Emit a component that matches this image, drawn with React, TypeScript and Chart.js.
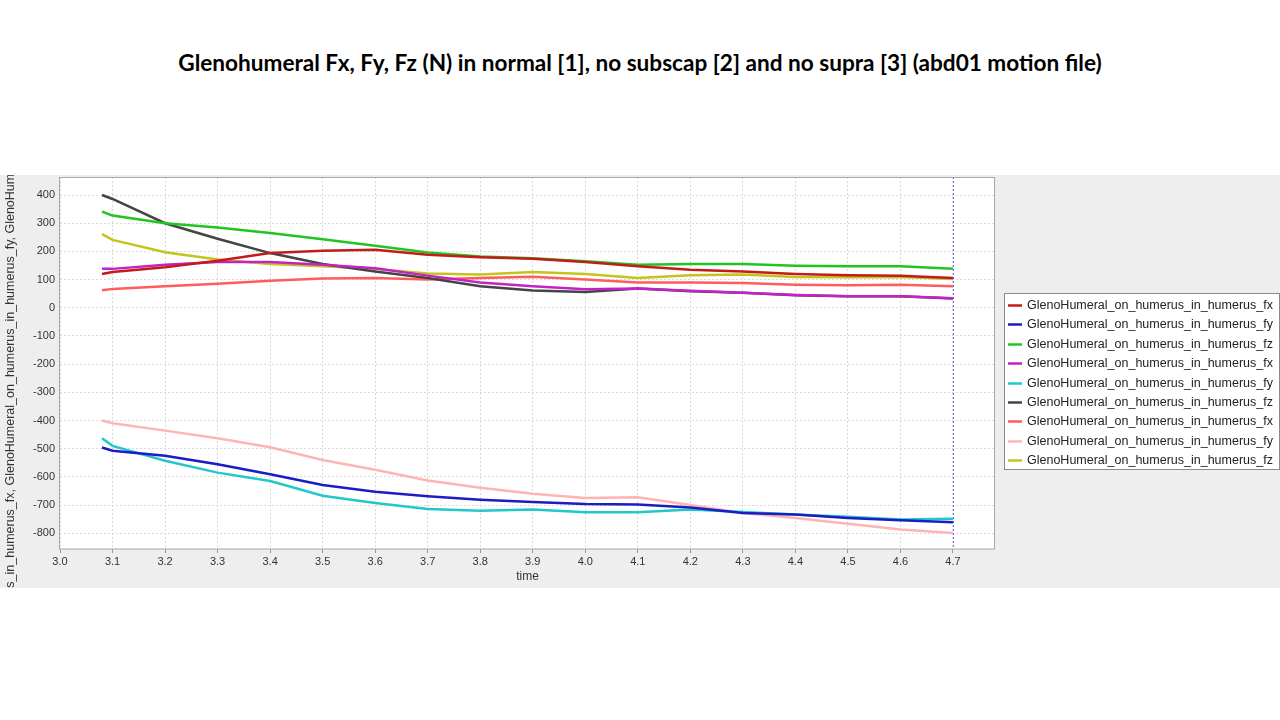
import React, { useEffect, useRef } from "react";
import { Chart, registerables } from "chart.js";

Chart.register(...registerables);

const titleText =
  "Glenohumeral Fx, Fy, Fz (N) in normal [1], no subscap [2] and no supra [3] (abd01 motion file)";
const xAxisTitle = "time";
const yAxisTitle =
  "GlenoHumeral_on_humerus_in_humerus_fx, GlenoHumeral_on_humerus_in_humerus_fy, GlenoHumeral_on_humerus_in_humerus_fz";

const times = [3.08, 3.1, 3.2, 3.3, 3.4, 3.5, 3.6, 3.7, 3.8, 3.9, 4.0, 4.1, 4.2, 4.3, 4.4, 4.5, 4.6, 4.7];

const fx1 = [120, 127, 144, 167, 194, 202, 206, 188, 179, 174, 162, 147, 135, 129, 120, 115, 114, 106];
const fy1 = [-496, -507, -525, -555, -591, -629, -653, -669, -681, -689, -696, -698, -709, -728, -734, -746, -754, -761];
const fz1 = [341, 327, 300, 285, 265, 243, 220, 196, 182, 176, 165, 153, 155, 155, 149, 147, 147, 138];
const fx2 = [138, 138, 153, 162, 162, 153, 140, 114, 90, 76, 66, 68, 60, 53, 45, 41, 41, 34];
const fy2 = [-463, -490, -543, -585, -615, -667, -693, -714, -720, -716, -726, -726, -716, -725, -734, -742, -751, -749];
const fz2 = [400, 386, 300, 245, 194, 155, 129, 106, 76, 61, 56, 68, 59, 53, 44, 41, 41, 33];
const fx3 = [62, 67, 76, 85, 96, 104, 106, 100, 106, 110, 100, 90, 90, 88, 82, 80, 82, 76];
const fy3 = [-400, -410, -436, -463, -495, -540, -575, -613, -639, -660, -675, -672, -700, -728, -746, -766, -787, -799];
const fz3 = [261, 241, 197, 171, 155, 147, 138, 122, 118, 127, 120, 106, 115, 118, 109, 108, 109, 102];

const seriesLabels = [
  "GlenoHumeral_on_humerus_in_humerus_fx",
  "GlenoHumeral_on_humerus_in_humerus_fy",
  "GlenoHumeral_on_humerus_in_humerus_fz",
  "GlenoHumeral_on_humerus_in_humerus_fx",
  "GlenoHumeral_on_humerus_in_humerus_fy",
  "GlenoHumeral_on_humerus_in_humerus_fz",
  "GlenoHumeral_on_humerus_in_humerus_fx",
  "GlenoHumeral_on_humerus_in_humerus_fy",
  "GlenoHumeral_on_humerus_in_humerus_fz",
];
const seriesValues = [fx1, fy1, fz1, fx2, fy2, fz2, fx3, fy3, fz3];
const seriesColors = [
  "#c41a1a",
  "#1c1cc4",
  "#22c422",
  "#c422c4",
  "#22c8c8",
  "#444444",
  "#ff5c5c",
  "#ffb4b4",
  "#c4c41c",
];

const cursorTime = 4.7;
const xMin = 3.0;
const xMax = 4.78;
const yMin = -856;
const yMax = 464;

const FONT = '"Liberation Sans", Arial, sans-serif';

const plotBgPlugin = {
  id: "plotBg",
  beforeDraw(chart: any) {
    const { ctx, chartArea } = chart;
    ctx.save();
    ctx.fillStyle = "#ffffff";
    ctx.fillRect(chartArea.left, chartArea.top, chartArea.right - chartArea.left, chartArea.bottom - chartArea.top);
    ctx.restore();
  },
  afterDraw(chart: any) {
    const { ctx, chartArea } = chart;
    ctx.save();
    ctx.strokeStyle = "#a8a8a8";
    ctx.lineWidth = 1;
    ctx.strokeRect(
      Math.round(chartArea.left) - 0.5,
      Math.round(chartArea.top) + 0.5,
      Math.round(chartArea.right - chartArea.left),
      Math.round(chartArea.bottom - chartArea.top) - 0.5
    );
    ctx.restore();
  },
};

const cursorPlugin = {
  id: "cursorLine",
  afterDatasetsDraw(chart: any) {
    const { ctx, chartArea, scales } = chart;
    const x = Math.round(scales.x.getPixelForValue(cursorTime)) + 0.5;
    ctx.save();
    ctx.strokeStyle = "#6f6fff";
    ctx.lineWidth = 1;
    ctx.setLineDash([2, 2]);
    ctx.beginPath();
    ctx.moveTo(x, chartArea.top);
    ctx.lineTo(x, chartArea.bottom);
    ctx.stroke();
    ctx.restore();
  },
};

const boxLegendPlugin = {
  id: "boxLegend",
  afterDraw(chart: any) {
    const { ctx } = chart;
    const x0 = 1004;
    const y0 = 118;
    const w = 275;
    const h = 176;
    ctx.save();
    ctx.fillStyle = "#ffffff";
    ctx.fillRect(x0 + 0.5, y0 + 0.5, w, h);
    ctx.strokeStyle = "#8a8a8a";
    ctx.lineWidth = 1;
    ctx.strokeRect(x0 + 0.5, y0 + 0.5, w, h);
    chart.data.datasets.forEach((ds: any, i: number) => {
      const cy = Math.round(y0 + 12 + i * 19.4) + 0.5;
      ctx.strokeStyle = ds.borderColor;
      ctx.lineWidth = 2.5;
      ctx.beginPath();
      ctx.moveTo(x0 + 4, cy);
      ctx.lineTo(x0 + 18, cy);
      ctx.stroke();
      ctx.fillStyle = "#222222";
      ctx.font = `12.5px ${FONT}`;
      ctx.textBaseline = "middle";
      ctx.textAlign = "left";
      ctx.fillText(ds.label, x0 + 23, cy);
    });
    ctx.restore();
  },
};

export default function App() {
  const canvasRef = useRef<HTMLCanvasElement | null>(null);

  useEffect(() => {
    if (!canvasRef.current) return;
    const datasets = seriesValues.map((vals, i) => ({
      label: seriesLabels[i],
      data: times.map((t, j) => ({ x: t, y: vals[j] })),
      borderColor: seriesColors[i],
      backgroundColor: seriesColors[i],
      borderWidth: 2.5,
      pointRadius: 0,
      tension: 0,
      fill: false,
    }));

    const chart = new Chart(canvasRef.current, {
      type: "line",
      data: { datasets },
      plugins: [plotBgPlugin, cursorPlugin, boxLegendPlugin],
      options: {
        animation: false,
        responsive: false,
        devicePixelRatio: 1,
        layout: { padding: { top: 2, right: 285, bottom: 0, left: 0 } },
        plugins: {
          legend: { display: false },
          tooltip: { enabled: false },
          title: { display: false },
        },
        scales: {
          x: {
            type: "linear",
            min: xMin,
            max: xMax,
            afterBuildTicks: (scale: any) => {
              const out: any[] = [];
              for (let v = 30; v <= 47; v++) out.push({ value: v / 10 });
              scale.ticks = out;
            },
            afterFit: (scale: any) => {
              scale.height = 39;
              scale.paddingLeft = 0;
              scale.paddingRight = 0;
            },
            ticks: {
              autoSkip: false,
              maxRotation: 0,
              padding: 2,
              color: "#333333",
              font: { family: FONT, size: 11 },
              callback: (v: any) => Number(v).toFixed(1),
            },
            grid: {
              color: "#dadada",
              lineWidth: 1,
              drawTicks: true,
              tickLength: 4,
              tickColor: "#999999",
            },
            border: { display: false, dash: [2, 2] },
            title: {
              display: true,
              text: xAxisTitle,
              color: "#333333",
              font: { family: FONT, size: 12 },
              padding: { top: 2, bottom: 4 },
            },
          },
          y: {
            type: "linear",
            min: yMin,
            max: yMax,
            afterBuildTicks: (scale: any) => {
              const out: any[] = [];
              for (let v = -800; v <= 400; v += 100) out.push({ value: v });
              scale.ticks = out;
            },
            afterFit: (scale: any) => {
              scale.width = 60;
              scale.paddingTop = 0;
              scale.paddingBottom = 0;
            },
            ticks: {
              autoSkip: false,
              padding: 5,
              color: "#333333",
              font: { family: FONT, size: 11 },
              callback: (v: any) => String(Math.round(Number(v))),
            },
            grid: {
              color: "#dadada",
              lineWidth: 1,
              drawTicks: false,
            },
            border: { display: false, dash: [2, 2] },
            title: {
              display: true,
              text: yAxisTitle,
              color: "#333333",
              font: { family: FONT, size: 12.5 },
              padding: { top: 3, bottom: 4 },
            },
          },
        },
      },
    } as any);

    return () => {
      chart.destroy();
    };
  }, []);

  return (
    <div
      style={{
        position: "absolute",
        left: 0,
        top: 0,
        width: 1280,
        height: 720,
        background: "#ffffff",
        overflow: "hidden",
      }}
    >
      <div
        style={{
          position: "absolute",
          left: 0,
          top: 50,
          width: 1280,
          textAlign: "center",
          fontFamily: "Lato, 'Open Sans', sans-serif",
          fontWeight: 700,
          fontSize: 22.6,
          lineHeight: "26px",
          color: "#000000",
        }}
      >
        {titleText}
      </div>
      <div
        style={{
          position: "absolute",
          left: 0,
          top: 175,
          width: 1280,
          height: 413,
          background: "#eeeeee",
        }}
      >
        <canvas ref={canvasRef} width={1280} height={413} style={{ display: "block", width: 1280, height: 413 }} />
      </div>
    </div>
  );
}
